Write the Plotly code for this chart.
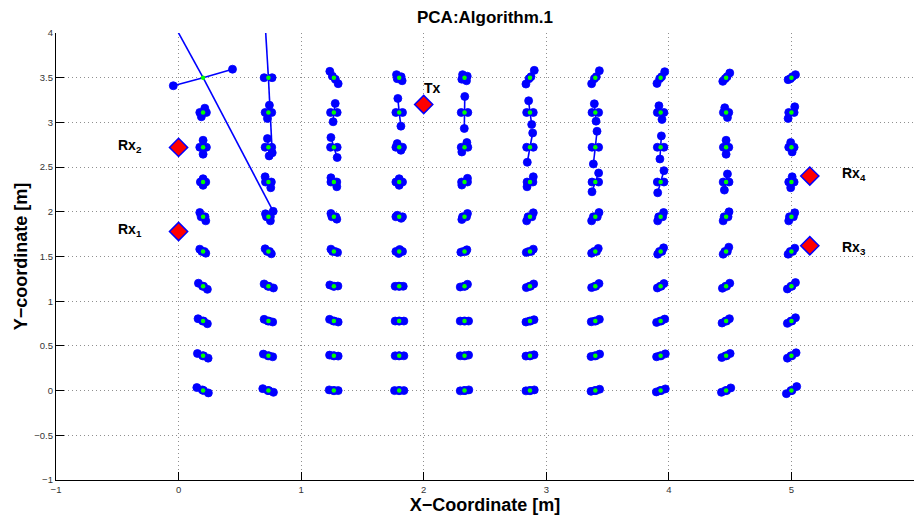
import plotly.graph_objects as go

# True grid positions (m)
grid_x = [0.2, 0.733, 1.267, 1.8, 2.333, 2.867, 3.4, 3.933, 4.467, 5.0]
grid_y = [0.0, 0.389, 0.778, 1.167, 1.556, 1.944, 2.333, 2.722, 3.111, 3.5]

# Estimated positions: offsets from the true point in cm, (dx, dy), 4 estimates per grid point
est_r0 = [
    [(-5.1, 3.4), (4.3, -2.6), (-0.6, 0.8), (0.4, 0.0)],
    [(-4.6, 2.2), (4.1, -1.9), (-0.4, 0.0), (0.4, 0.0)],
    [(-3.8, 0.8), (3.5, 0.0), (-0.4, 0.0), (0.4, 0.0)],
    [(-3.8, 0.0), (3.8, 0.0), (-0.4, 0.0), (0.4, 0.0)],
    [(-3.5, -0.3), (3.5, 0.8), (-0.4, 0.0), (0.4, 0.0)],
    [(-3.3, -0.3), (3.5, 0.8), (-0.4, 0.0), (0.4, 0.0)],
    [(-3.5, -0.8), (3.5, 1.5), (-0.4, 0.0), (0.4, 0.0)],
    [(-3.5, -1.5), (3.8, 1.9), (-0.4, 0.0), (0.4, 0.0)],
    [(-3.8, -1.9), (3.8, 3.0), (-0.4, 0.0), (0.4, 0.0)],
    [(-4.1, -3.4), (4.3, 4.5), (-0.4, 0.0), (0.4, 0.0)],
]
est_r1 = [
    [(-4.6, 2.6), (4.1, -2.6), (-0.4, 0.0), (0.4, 0.0)],
    [(-4.1, 1.9), (3.5, -1.1), (-0.4, 0.0), (0.4, 0.0)],
    [(-3.5, 0.8), (3.5, -0.3), (-0.4, 0.0), (0.4, 0.0)],
    [(-3.3, 0.0), (3.8, 0.0), (-0.4, 0.0), (0.4, 0.0)],
    [(-3.5, 0.0), (3.3, 0.8), (-0.4, 0.0), (0.4, 0.0)],
    [(-3.3, -0.3), (3.3, 1.1), (-0.4, 0.0), (0.4, 0.0)],
    [(-3.5, -0.8), (3.5, 1.9), (-0.4, 0.0), (0.4, 0.0)],
    [(-3.3, -1.1), (3.8, 2.2), (-0.4, 0.0), (0.4, 0.0)],
    [(-3.5, -1.9), (3.3, 2.6), (-0.4, 0.0), (0.4, 0.0)],
    [(-3.3, -2.6), (3.8, 3.4), (-0.4, 0.0), (0.4, 0.0)],
]
est_r2 = [
    [(-4.1, 2.6), (3.5, -3.0), (-0.4, 0.0), (0.4, 0.0)],
    [(-3.5, 1.9), (3.5, -1.1), (-0.4, 0.0), (0.4, 0.0)],
    [(-3.5, 1.9), (3.5, -1.1), (-0.4, 0.0), (0.4, 0.0)],
    [(-3.3, 0.0), (3.8, 0.0), (-0.4, 0.0), (0.4, 0.0)],
    [(-3.5, 0.0), (3.3, 0.0), (-0.4, 0.0), (0.4, 0.0)],
    [(-3.3, -1.1), (3.3, 1.5), (-0.4, 0.0), (0.4, 0.0)],
    [(-3.3, -0.8), (3.3, 1.9), (-0.4, 0.0), (0.4, 0.0)],
    [(-3.3, -1.5), (3.3, 2.2), (-0.4, 0.0), (0.4, 0.0)],
    [(-3.3, -2.2), (2.7, 2.6), (-0.4, 0.0), (0.4, 0.0)],
    [(-3.3, -2.6), (3.3, 3.7), (-0.4, 0.0), (0.4, 0.0)],
]
est_r3 = [
    [(-3.8, 3.4), (3.5, -3.4), (-0.4, 0.0), (0.4, 0.0)],
    [(-3.5, 2.6), (4.1, -1.9), (-0.4, 0.0), (0.4, 0.0)],
    [(-3.3, 1.5), (3.3, 0.3), (-0.4, 0.0), (0.4, 0.0)],
    [(-3.3, 0.0), (3.3, 0.0), (-0.4, 0.0), (0.4, 0.0)],
    [(-3.5, -0.8), (2.4, 2.2), (-0.4, 0.0), (0.4, 0.0)],
    [(-3.0, -1.5), (3.0, 2.6), (-0.4, 0.0), (0.4, 0.0)],
    [(-3.0, -1.5), (3.0, 3.0), (-0.4, 0.0), (0.4, 0.0)],
    [(-2.7, -1.9), (2.7, 3.0), (-0.4, 0.0), (0.4, 0.0)],
    [(-3.0, -2.2), (3.0, 3.4), (-0.4, 0.0), (0.4, 0.0)],
    [(-3.3, -3.0), (3.3, 4.1), (-0.4, 0.0), (0.4, 0.0)],
]
est_r4 = [
    [(-2.7, 2.6), (2.2, -1.9), (-1.0, 0.0), (1.0, 0.0)],
    [(-2.7, 3.0), (2.4, -2.6), (-1.0, 0.0), (1.0, 0.0)],
    [(-2.4, 2.6), (3.0, -1.1), (-1.0, 0.0), (1.0, 0.0)],
    [(-2.7, 0.0), (2.7, 0.0), (0.4, 2.2), (-0.4, -2.2)],
    [(-3.0, -0.8), (1.9, 1.9), (-1.0, 0.0), (1.0, 0.0)],
    [(-3.0, -1.1), (2.7, 2.6), (-1.0, 0.0), (1.0, 0.0)],
    [(-3.0, -1.9), (2.4, 3.4), (-1.0, 0.0), (1.0, 0.0)],
    [(-2.4, -3.0), (2.4, 4.1), (-1.0, 0.0), (1.0, 0.0)],
    [(-2.4, -3.0), (2.2, 4.8), (-1.0, 0.0), (1.0, 0.0)],
    [(-2.7, -3.0), (2.7, 3.7), (-1.0, 0.0), (1.0, 0.0)],
]
est_r5 = [
    [(-2.7, 4.8), (2.2, -4.5), (-1.6, 0.0), (1.6, 0.0)],
    [(-2.4, 3.4), (1.6, -4.5), (-1.6, 0.0), (1.6, 0.0)],
    [(-2.4, 3.7), (2.4, -2.6), (-1.6, 0.0), (1.6, 0.0)],
    [(-1.6, 1.7), (1.6, -1.7), (-2.7, 0.0), (2.7, 0.0)],
    [(-2.2, -3.0), (2.4, 3.7), (-1.6, 0.0), (1.6, 0.0)],
    [(-2.7, -4.5), (2.7, 4.5), (-1.6, 0.0), (1.6, 0.0)],
    [(-3.0, -4.5), (3.0, 4.8), (-1.6, 0.0), (1.6, 0.0)],
    [(-2.4, -4.5), (2.4, 4.8), (-1.6, 0.0), (1.6, 0.0)],
    [(-2.4, -4.5), (2.4, 5.6), (-1.6, 0.0), (1.6, 0.0)],
    [(-2.2, -4.5), (2.7, 4.5), (-1.6, 0.0), (1.6, 0.0)],
]
est_r6 = [
    [(0.0, 3.7), (0.0, -3.7), (-2.2, 0.0), (2.2, 0.0)],
    [(-2.7, 5.9), (1.9, -6.4), (-2.4, 0.0), (2.4, 0.0)],
    [(-2.4, 4.8), (2.4, -5.3), (-2.4, 0.0), (2.4, 0.0)],
    [(0.0, 3.7), (0.0, -3.7), (-2.7, 0.0), (2.7, 0.0)],
    [(-2.2, -3.4), (2.4, 4.1), (-2.4, 0.0), (2.4, 0.0)],
    [(-2.4, -5.3), (2.7, 5.9), (-2.4, 0.0), (2.4, 0.0)],
    [(-2.7, -10.9), (2.7, 10.1), (-2.7, 0.0), (2.7, 0.0)],
    [(-2.4, -12.0), (2.7, 12.7), (-2.7, 0.0), (2.7, 0.0)],
    [(-1.4, -9.0), (1.1, 9.0), (-2.4, 0.0), (2.4, 0.0)],
    [(-0.6, -6.4), (0.6, 5.9), (-2.2, 0.0), (2.2, 0.0)],
]
est_r7 = [
    [(0.0, 7.8), (0.0, -7.8), (-2.7, 0.0), (2.7, 0.0)],
    [(-0.8, 9.7), (0.6, -9.7), (-2.7, 0.0), (2.7, 0.0)],
    [(-2.4, 10.9), (2.7, -11.5), (-2.7, 0.0), (2.7, 0.0)],
    [(-1.6, 4.1), (1.4, -3.4), (-2.7, 0.0), (2.7, 0.0)],
    [(1.9, 5.3), (-2.2, -5.3), (-2.7, 0.0), (2.7, 0.0)],
    [(2.2, 16.0), (-2.2, -16.8), (-2.7, 0.0), (2.7, 0.0)],
    [(1.4, 17.9), (-1.6, -18.7), (-2.7, 0.0), (2.7, 0.0)],
    [(0.6, 12.7), (-0.6, -13.1), (-2.7, 0.0), (2.7, 0.0)],
    [(0.0, 7.8), (0.0, -7.8), (-2.2, 0.0), (2.2, 0.0)],
    [(-0.6, 5.3), (0.6, -5.3), (-2.2, 0.0), (2.2, 0.0)],
]
est_r8 = [
    [(1.4, 4.8), (-1.4, -4.8), (-2.7, 0.0), (2.7, 0.0)],
    [(0.8, 8.2), (-0.8, -6.7), (-2.7, 0.0), (2.7, 0.0)],
    [(1.1, 10.1), (-0.6, -10.4), (-2.7, 0.0), (2.7, 0.0)],
    [(-1.1, 15.7), (1.4, -15.3), (-2.7, 0.0), (2.7, 0.0)],
    [(0.2, 17.9), (-0.2, -17.9), (-2.7, 0.0), (2.7, 0.0)],
    [(-1.1, 13.1), (1.4, -13.4), (-2.7, 0.0), (2.7, 0.0)],
    [(-0.8, 9.7), (0.6, -9.7), (-2.7, 0.0), (2.7, 0.0)],
    [(-1.4, 7.5), (1.1, -7.8), (-2.7, 0.0), (2.7, 0.0)],
    [(-1.1, 5.3), (1.1, -5.6), (-2.2, 0.0), (2.2, 0.0)],
    [(-2.7, -6.7), (2.7, 6.4), (-2.2, 0.0), (2.2, 0.0)],
]
est_r9 = [
    [(24.0, 9.5), (-24.3, -9.0), (57.2, -149.5), (-60.0, 150.0)],
    [(3.1, -84.0), (-3.7, 84.0), (-3.5, 0.0), (3.0, 0.0)],
    [(-3.3, 7.1), (3.5, -6.7), (-1.2, 1.7), (1.2, -1.7)],
    [(-2.2, 3.4), (2.4, -3.4), (-1.6, -1.1), (1.6, 1.1)],
    [(-2.2, -1.7), (2.2, 1.7), (-1.6, 3.4), (1.6, -3.4)],
    [(-3.3, -7.1), (3.5, 8.2), (-0.8, -1.1), (0.8, 1.1)],
    [(-3.0, -6.7), (3.3, 7.8), (-0.8, -1.1), (0.8, 1.1)],
    [(-3.0, -6.4), (3.3, 6.7), (-0.8, -1.1), (0.8, 1.1)],
    [(-2.7, -4.1), (3.0, 5.3), (-0.8, -1.1), (0.8, 1.1)],
    [(-2.7, -2.2), (3.3, 3.4), (-0.8, -1.1), (0.8, 1.1)],
]
est_rows = [est_r0, est_r1, est_r2, est_r3, est_r4, est_r5, est_r6, est_r7, est_r8, est_r9]

# Transmitter and receivers
tx_x = [2.0]
tx_y = [3.2]
rx_x = [0.0, 0.0, 5.15, 5.15]
rx_y = [1.78, 2.72, 1.62, 2.40]

# Labels
label_text = ["Tx", "Rx<sub>1</sub>", "Rx<sub>2</sub>", "Rx<sub>3</sub>", "Rx<sub>4</sub>"]
label_x = [1.99, -0.51, -0.51, 5.40, 5.40]
label_y = [3.39, 1.80, 2.74, 1.60, 2.42]

# Build traces
true_x, true_y = [], []
est_x, est_y = [], []
seg_x, seg_y = [], []
for r, row in enumerate(est_rows):
    for c, cluster in enumerate(row):
        gx, gy = grid_x[c], grid_y[r]
        true_x.append(gx)
        true_y.append(gy)
        for dx, dy in cluster:
            ex, ey = gx + dx / 100.0, gy + dy / 100.0
            est_x.append(ex)
            est_y.append(ey)
            seg_x += [gx, ex, None]
            seg_y += [gy, ey, None]

BLUE = "#0000ff"
fig = go.Figure()
fig.add_trace(go.Scatter(x=seg_x, y=seg_y, mode="lines",
                         line=dict(color=BLUE, width=1.6), hoverinfo="skip", showlegend=False))
fig.add_trace(go.Scatter(x=est_x, y=est_y, mode="markers",
                         marker=dict(color=BLUE, size=8, line=dict(color=BLUE, width=0.8)),
                         showlegend=False))
fig.add_trace(go.Scatter(x=true_x, y=true_y, mode="markers",
                         marker=dict(color="#00ff00", size=4.5, line=dict(width=0)),
                         showlegend=False))
fig.add_trace(go.Scatter(x=rx_x + tx_x, y=rx_y + tx_y, mode="markers",
                         marker=dict(symbol="diamond", color="#ff0000", size=14,
                                     line=dict(color=BLUE, width=1.5)),
                         showlegend=False))

FONT = "Liberation Sans, Arial, Helvetica, sans-serif"
for t, x, y in zip(label_text, label_x, label_y):
    fig.add_annotation(x=x, y=y, text="<b>" + t + "</b>", showarrow=False,
                       xanchor="left", yanchor="middle",
                       font=dict(family=FONT, size=14, color="black"))

axis_common = dict(
    showgrid=True, gridcolor="#8f8f8f", griddash="1px,3px", gridwidth=1,
    zeroline=False, showline=True, linecolor="black", linewidth=1.3,
    ticks="inside", ticklen=8, tickcolor="black", tickwidth=1,
    tickfont=dict(family=FONT, size=9.5, color="#333333"),
    mirror=False,
)
fig.update_layout(
    width=914, height=518,
    margin=dict(l=56, r=0, t=33, b=38),
    paper_bgcolor="white", plot_bgcolor="white",
    title=dict(text="<b>PCA:Algorithm.1</b>", xref="paper", x=0.5, xanchor="center",
               yref="container", y=1 - 17 / 518, yanchor="middle",
               font=dict(family=FONT, size=17, color="black")),
    xaxis=dict(range=[-1, 6], tick0=0, dtick=1,
               title=dict(text="<b>X\u2212Coordinate [m]</b>", standoff=1,
                          font=dict(family=FONT, size=18, color="black")),
               **axis_common),
    yaxis=dict(range=[-1, 4], tick0=0, dtick=0.5,
               title=dict(text="<b>Y\u2212coordinate [m]</b>", standoff=1,
                          font=dict(family=FONT, size=18, color="black")),
               **axis_common),
)

fig.write_html("out.html")
